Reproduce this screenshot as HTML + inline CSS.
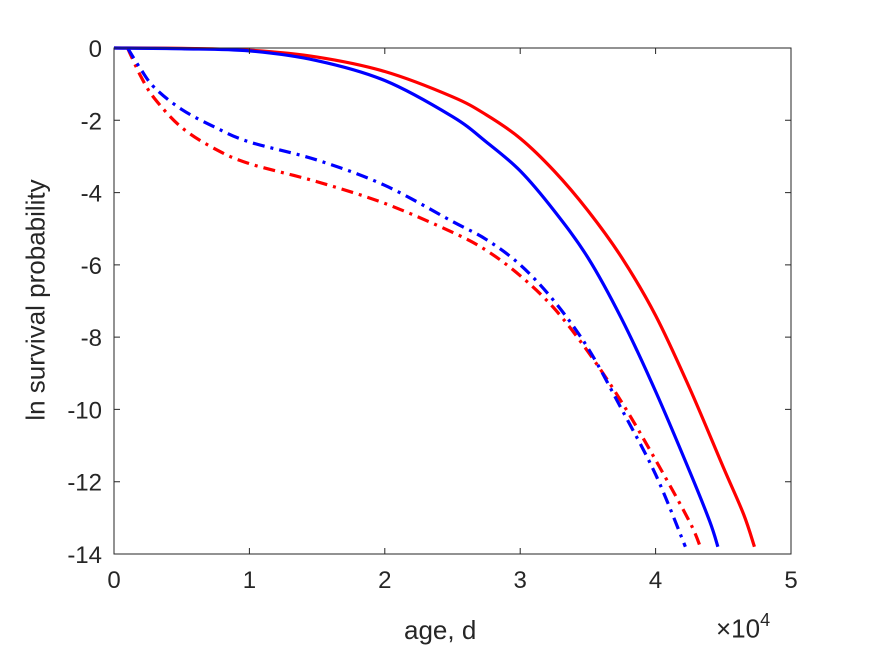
<!DOCTYPE html>
<html><head><meta charset="utf-8"><style>
body{margin:0;background:#fff;overflow:hidden}
svg text{font-family:"Liberation Sans",sans-serif;fill:#262626}
</style></head><body>
<svg id="c" width="875" height="656" style="position:absolute;left:0;top:0"></svg>
<script>
const xTicks=[0,1,2,3,4,5];
const yTicks=[0,-2,-4,-6,-8,-10,-12,-14];
const redSolidX=[0,0.5,1,1.5,2,2.5,2.75,3,3.25,3.5,3.75,4,4.25,4.5,4.65,4.73];
const redSolidY=[0,-0.01,-0.06,-0.25,-0.65,-1.35,-1.85,-2.5,-3.4,-4.5,-5.8,-7.4,-9.4,-11.6,-12.9,-13.8];
const blueSolidX=[0,0.5,1,1.5,2,2.5,2.75,3,3.25,3.5,3.75,4,4.25,4.4,4.46];
const blueSolidY=[0,-0.02,-0.08,-0.35,-0.9,-1.9,-2.6,-3.4,-4.5,-5.8,-7.5,-9.5,-11.7,-13.1,-13.8];
const blueDashX=[0.1,0.2,0.3,0.5,0.75,1,1.5,2,2.5,2.75,3,3.25,3.5,3.75,4,4.22];
const blueDashY=[0,-0.6,-1.1,-1.7,-2.2,-2.6,-3.1,-3.8,-4.8,-5.3,-6.0,-7.0,-8.3,-10.0,-11.8,-13.8];
const redDashX=[0.1,0.2,0.3,0.5,0.75,1,1.5,2,2.5,2.75,3,3.25,3.5,3.75,4,4.25,4.33];
const redDashY=[0,-0.8,-1.4,-2.2,-2.8,-3.2,-3.7,-4.3,-5.1,-5.6,-6.3,-7.2,-8.4,-9.8,-11.4,-13.1,-13.8];
const L=114,R=791,T=48,B=554;
const sx=v=>L+(v-0)/5*(R-L);
const sy=v=>T+(0-v)/14*(B-T);
const svg=document.getElementById('c');
const NS='http://www.w3.org/2000/svg';
function mk(tag,attrs,parent){const e=document.createElementNS(NS,tag);for(const k in attrs)e.setAttribute(k,attrs[k]);(parent||svg).appendChild(e);return e;}
const bg=mk('rect',{x:L,y:T,width:R-L,height:B-T,fill:'#fff'});


function path(xs,ys){
  const p=xs.map((x,i)=>[sx(x),sy(ys[i])]);
  let d='M'+p[0][0]+','+p[0][1];
  for(let i=0;i<p.length-1;i++){
    const p0=p[i-1]||p[i],p1=p[i],p2=p[i+1],p3=p[i+2]||p[i+1];
    const c1=[p1[0]+(p2[0]-p0[0])/6,p1[1]+(p2[1]-p0[1])/6];
    const c2=[p2[0]-(p3[0]-p1[0])/6,p2[1]-(p3[1]-p1[1])/6];
    d+=`C${c1[0]},${c1[1]} ${c2[0]},${c2[1]} ${p2[0]},${p2[1]}`;
  }
  return d;
}
const series=[[redSolidX,redSolidY,'#ff0000',null,'red-solid-line'],[blueSolidX,blueSolidY,'#0000ff',null,'blue-solid-line'],[redDashX,redDashY,'#ff0000','12 6 3 6','red-dashdot-line'],[blueDashX,blueDashY,'#0000ff','12 6 3 6','blue-dashdot-line']];
series.forEach(s=>{
  const e=mk('path',{d:path(s[0],s[1]),fill:'none',stroke:s[2],'stroke-width':3.2});
  if(s[3])e.setAttribute('stroke-dasharray',s[3]);
  
  
});
const ax=mk('path',{d:`M${L},${T}H${R}V${B}H${L}Z`,fill:'none',stroke:'#262626','stroke-width':1});


xTicks.forEach(t=>{
  const x=sx(t);
  mk('path',{d:`M${x},${B}v-6M${x},${T}v6`,stroke:'#262626'});
  const tx=mk('text',{x:x,y:B+34,'text-anchor':'middle','font-size':24});
  tx.textContent=t;
  
  
});
yTicks.forEach(t=>{
  const y=sy(t);
  mk('path',{d:`M${L},${y}h6M${R},${y}h-6`,stroke:'#262626'});
  const tx=mk('text',{x:L-12,y:y+9,'text-anchor':'end','font-size':24});
  tx.textContent=t;
  
  
});
</script>
<div style="position:absolute;left:0;top:0;width:875px;height:656px;pointer-events:none">
<div style="position:absolute;left:404px;top:615px;font:26px 'Liberation Sans',sans-serif;color:#262626">age, d</div>
<div style="position:absolute;left:716px;top:612px;font:26px 'Liberation Sans',sans-serif;color:#262626">×10<sup style="font-size:18px;position:relative;top:-2px">4</sup></div>
<div style="position:absolute;left:36px;top:300px;transform:translate(-50%,-50%) rotate(-90deg);white-space:nowrap;font:26px 'Liberation Sans',sans-serif;color:#262626">ln survival probability</div>
</div>
</body></html>
